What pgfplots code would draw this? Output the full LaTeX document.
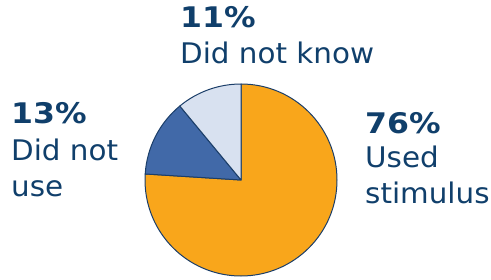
\documentclass[border=0pt]{standalone}
\usepackage{pgfplots}
\pgfplotsset{compat=1.18}
\usepackage{fontspec}
\setmainfont{DejaVu Sans}[FakeStretch=1.035, BoldFeatures={FakeStretch=1.11}]
\definecolor{txt}{RGB}{16,63,107}
\definecolor{edge}{RGB}{27,62,105}
\definecolor{sorange}{RGB}{249,166,27}
\definecolor{sdark}{RGB}{65,105,168}
\definecolor{slight}{RGB}{216,225,240}
% values (percent)
\def\vUsed{76}
\def\vNotUse{13}
\def\vNotKnow{11}
\begin{document}
\begin{tikzpicture}
\begin{axis}[
  width=491bp, height=280bp, scale only axis,
  xmin=0, xmax=491, ymin=0, ymax=280,
  hide axis, clip=false,
]
\path (axis cs:0,0) rectangle (axis cs:491,280);
\pgfmathsetmacro{\aA}{90}
\pgfmathsetmacro{\aB}{90-3.6*\vUsed}
\pgfmathsetmacro{\aC}{\aB-3.6*\vNotUse}
\pgfmathsetmacro{\aD}{\aC-3.6*\vNotKnow}
\filldraw[fill=sorange, draw=edge, line width=1bp, line join=round]
  (axis cs:241,100) -- ++(\aA:96bp) arc[start angle=\aA, end angle=\aB, radius=96bp] -- cycle;
\filldraw[fill=sdark, draw=edge, line width=1bp, line join=round]
  (axis cs:241,100) -- ++(\aB:96bp) arc[start angle=\aB, end angle=\aC, radius=96bp] -- cycle;
\filldraw[fill=slight, draw=edge, line width=1bp, line join=round]
  (axis cs:241,100) -- ++(\aC:96bp) arc[start angle=\aC, end angle=\aD, radius=96bp] -- cycle;
\begin{scope}[every node/.style={anchor=base west, inner sep=0pt, text=txt, font=\fontsize{28.5}{36}\selectfont}]
\node at (axis cs:180,253) {\bfseries\vNotKnow\%};
\node at (axis cs:180,217) {Did not know};
\node at (axis cs:365,147) {\bfseries\vUsed\%};
\node at (axis cs:365,113) {Used};
\node at (axis cs:365,77) {stimulus};
\node at (axis cs:11,157) {\bfseries\vNotUse\%};
\node at (axis cs:11,120) {Did not};
\node at (axis cs:11,84) {use};
\end{scope}
\end{axis}
\end{tikzpicture}
\end{document}
